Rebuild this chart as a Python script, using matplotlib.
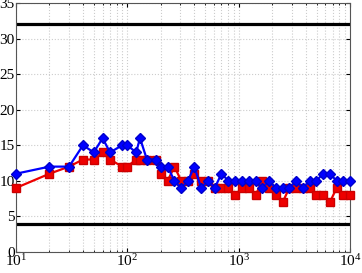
import matplotlib
matplotlib.use("Agg")
import matplotlib.pyplot as plt
from matplotlib.ticker import LogLocator, NullFormatter, MultipleLocator

# sample sizes (x) and the two measured series
x_vals = [10, 20, 30, 40, 50, 60, 70, 90, 100, 120, 130, 150, 180,
          200, 230, 265, 305, 350, 400, 460, 530, 610, 700, 810, 930,
          1070, 1230, 1420, 1630, 1870, 2150, 2480, 2850, 3280, 3770,
          4330, 4980, 5730, 6590, 7580, 8720, 10000]
red_vals = [9, 11, 12, 13, 13, 14, 13, 12, 12, 13, 13, 13, 13,
            11, 10, 12, 10, 10, 11, 10, 10, 9, 9, 9, 8,
            9, 9, 8, 10, 9, 8, 7, 9, 9, 9,
            9, 8, 8, 7, 9, 8, 8]
blue_vals = [11, 12, 12, 15, 14, 16, 14, 15, 15, 14, 16, 13, 13,
             12, 12, 10, 9, 10, 12, 9, 10, 9, 11, 10, 10,
             10, 10, 10, 9, 10, 9, 9, 9, 10, 9,
             10, 10, 11, 11, 10, 10, 10]
upper_bound = 32
lower_bound = 4

plt.rcParams["font.family"] = ["Liberation Serif", "DejaVu Serif"]
plt.rcParams["mathtext.fontset"] = "custom"
plt.rcParams["mathtext.rm"] = "Liberation Serif"
plt.rcParams["mathtext.it"] = "Liberation Serif"

fig = plt.figure(figsize=(3.62, 2.73), dpi=100)
ax = fig.add_axes([0.044, 0.077, 0.923, 0.912])

ax.axhline(upper_bound, color="black", linewidth=2.3, zorder=2)
ax.axhline(lower_bound, color="black", linewidth=2.3, zorder=2)

ax.plot(x_vals, red_vals, color="#ee0000", linewidth=1.6, marker="s",
        markersize=5.2, markerfacecolor="#ee0000", markeredgecolor="#cc0000",
        zorder=3, clip_on=False)
ax.plot(x_vals, blue_vals, color="#0000ff", linewidth=1.6, marker="D",
        markersize=5.2, markerfacecolor="#0000ff", markeredgecolor="#0000cc",
        zorder=4, clip_on=False)

ax.set_xscale("log")
ax.set_xlim(10, 10000)
ax.set_ylim(0, 35)
ax.yaxis.set_major_locator(MultipleLocator(5))
ax.xaxis.set_major_locator(LogLocator(base=10))
ax.xaxis.set_minor_locator(LogLocator(base=10, subs=range(2, 10)))
ax.xaxis.set_minor_formatter(NullFormatter())

ax.grid(True, which="major", axis="both", color="#cccccc", linestyle=":", linewidth=0.8)
ax.grid(True, which="minor", axis="x", color="#cccccc", linestyle=":", linewidth=0.8)

ax.tick_params(which="both", direction="in", top=True, right=True, labelsize=11, pad=1)
ax.tick_params(which="major", length=3)
ax.tick_params(which="minor", length=1.5)
for s in ax.spines.values():
    s.set_color("#555555")
    s.set_linewidth(0.8)

fig.savefig("out.png", dpi=100)
